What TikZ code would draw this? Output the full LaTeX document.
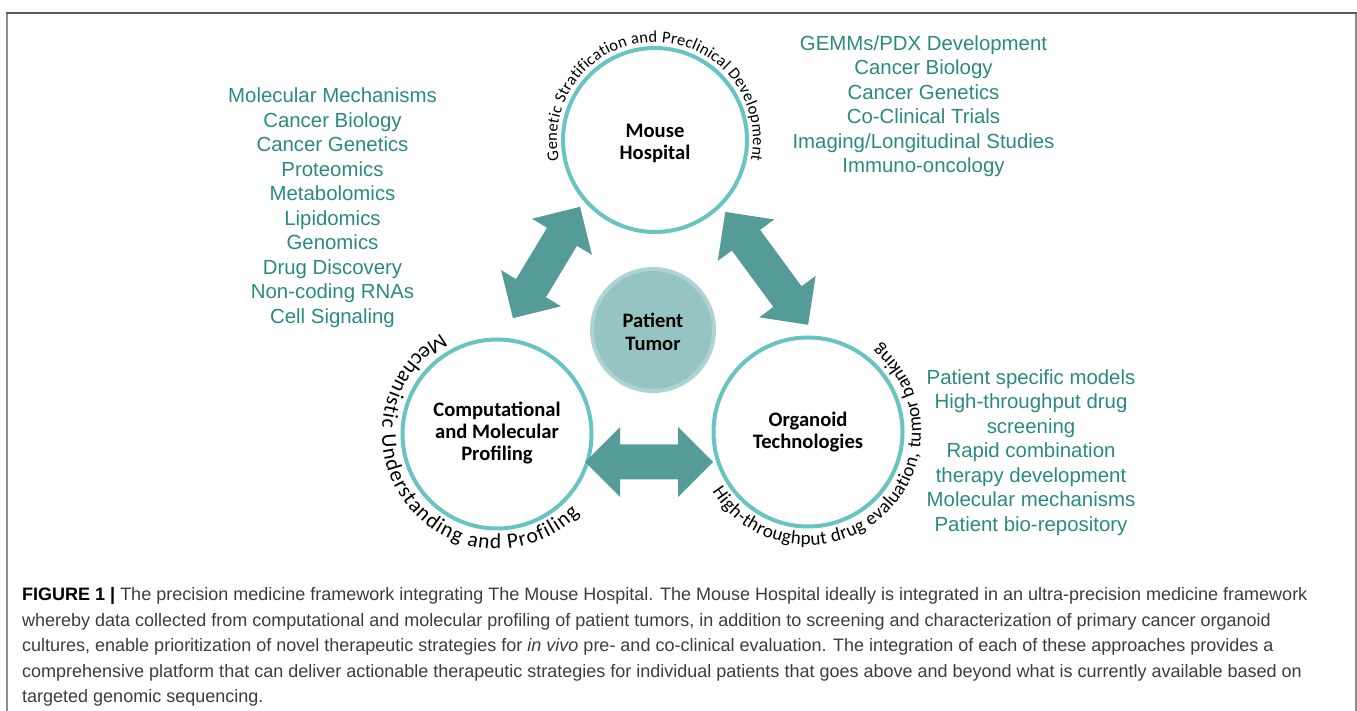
\documentclass[tikz,border=0pt]{standalone}
\usepackage{fontspec}
\setmainfont{Liberation Sans}
\newfontfamily\carlito{Carlito}
\usetikzlibrary{decorations.text}
\definecolor{ring}{RGB}{104,196,192}
\definecolor{arrowc}{RGB}{85,155,152}
\definecolor{tumorfill}{RGB}{150,196,195}
\definecolor{tumorring}{RGB}{172,212,210}
\definecolor{listc}{RGB}{42,138,128}
\definecolor{capc}{RGB}{60,60,60}
\definecolor{frametop}{RGB}{90,90,90}
\definecolor{frameside}{RGB}{140,140,140}
\newcommand\dblarrowshape[4]{%
  \begin{scope}[shift={#1}, rotate=#2]
    \fill[arrowc] (-#3/2,0) -- (-#3/2+35,35) -- (-#3/2+35,17.5) -- (#3/2-35,17.5) -- (#3/2-35,35)
      -- (#3/2,0) -- (#3/2-35,-35) -- (#3/2-35,-17.5) -- (-#3/2+35,-17.5) -- (-#3/2+35,-35) -- cycle;
    \coordinate (#4) at (0,0);
  \end{scope}}
\begin{document}
\begin{tikzpicture}[x=1pt,y=1pt,
  hub/.style={circle, draw=ring, line width=4pt, inner sep=0pt},
  hubtext/.style={align=center, inner sep=0pt, font=\carlito\bfseries\fontsize{20.6}{22}\selectfont, text=black},
  listtext/.style={font=\fontsize{20.4}{24.5}\selectfont, align=center, text=listc, inner sep=0pt},
  captext/.style={anchor=base west, inner sep=0pt, font=\fontsize{18}{25.5}\selectfont, text=capc},
  arctext/.style={decorate, decoration={text along path, text align=fit to path, text={#1}}},
]
\useasboundingbox (0,0) rectangle (1357,711);
% frame
\draw[frameside, line width=1.2pt] (7,0) -- (7,698);
\draw[frameside, line width=1.2pt] (1356,0) -- (1356,698);
\draw[frametop, line width=1.5pt] (6.4,698) -- (1356.6,698);

% hubs
\node[hub, minimum size=184pt] (mouse) at (655,571) {};
\node[hubtext] (mouselabel) at (655,568) {Mouse\\Hospital};
\node[hub, minimum size=189pt] (comp) at (497,277) {};
\node[hubtext] (complabel) at (497,278) {Computational\\and Molecular\\Profiling};
\node[hub, minimum size=189pt] (org) at (808,279) {};
\node[hubtext] (orglabel) at (808,279) {Organoid\\Technologies};
\node[circle, fill=tumorfill, draw=tumorring, line width=4pt, minimum size=122pt, inner sep=0pt] (tumor) at (653,381) {};
\node[hubtext, font=\carlito\bfseries\fontsize{20.5}{23}\selectfont] (tumorlabel) at (653,379.5) {Patient\\Tumor};

% double arrows
\dblarrowshape{(546.5,448.5)}{58.9}{130}{arrowL}
\dblarrowshape{(766.7,442.6)}{-53.7}{140}{arrowR}
\dblarrowshape{(649,249)}{0}{128}{arrowB}

% curved texts
\path[arctext={|\carlito\fontsize{16.5}{18}\selectfont|Genetic Stratification and Preclinical Development}]
  (mouse.center) ++(192:98) arc[start angle=192, end angle=-12, radius=98];
\path[arctext={|\carlito\fontsize{21.5}{22}\selectfont|Mechanistic Understanding and Profiling}]
  (comp.center) ++(119:115) arc[start angle=119, end angle=316, radius=115];
\path[arctext={|\carlito\fontsize{19}{20}\selectfont|High-throughput drug evaluation, tumor banking}]
  (org.center) ++(212:113) arc[start angle=212, end angle=411, radius=113];

% lists
\node[listtext] (listL) at (332.5,503.5) {Molecular Mechanisms\\Cancer Biology\\Cancer Genetics\\Proteomics\\Metabolomics\\Lipidomics\\Genomics\\Drug Discovery\\Non-coding RNAs\\Cell Signaling};
\node[listtext] (listTR) at (923.5,605) {GEMMs/PDX Development\\Cancer Biology\\Cancer Genetics\\Co-Clinical Trials\\Imaging/Longitudinal Studies\\Immuno-oncology};
\node[listtext] (listBR) at (1031,258.5) {Patient specific models\\High-throughput drug\\screening\\Rapid combination\\therapy development\\Molecular mechanisms\\Patient bio-repository};

% caption
\node[captext] (cap1) at (22,110) {\textbf{\color{black}FIGURE 1 |} The precision medicine framework integrating The Mouse Hospital. The Mouse Hospital ideally is integrated in an ultra-precision medicine framework};
\node[captext] (cap2) at (22,84.5) {whereby data collected from computational and molecular profiling of patient tumors, in addition to screening and characterization of primary cancer organoid};
\node[captext] (cap3) at (22,59) {cultures, enable prioritization of novel therapeutic strategies for \textit{in vivo} pre- and co-clinical evaluation. The integration of each of these approaches provides a};
\node[captext] (cap4) at (22,33.5) {comprehensive platform that can deliver actionable therapeutic strategies for individual patients that goes above and beyond what is currently available based on};
\node[captext] (cap5) at (22,8) {targeted genomic sequencing.};
\end{tikzpicture}
\end{document}
